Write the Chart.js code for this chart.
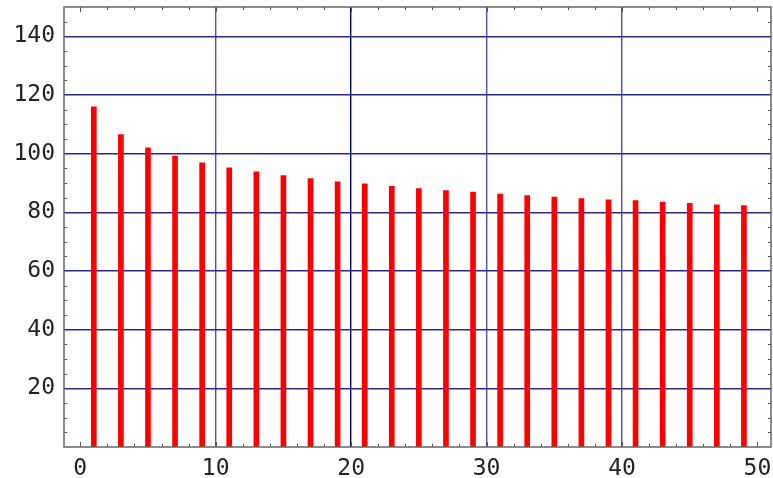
<!DOCTYPE html>
<html>
<head>
<meta charset="utf-8">
<script src="https://cdn.jsdelivr.net/npm/chart.js@4"></script>
<style>
  html, body { margin: 0; padding: 0; background: #fff; }
  #wrap { width: 773px; height: 478px; }
</style>
</head>
<body>
<div id="wrap"><canvas id="myChart" width="773" height="478"></canvas></div>
<script>
// data
var xValues = [1, 3, 5, 7, 9, 11, 13, 15, 17, 19, 21, 23, 25, 27, 29, 31, 33, 35, 37, 39, 41, 43, 45, 47, 49];
var yValues = [116.0, 106.5, 102.0, 99.2, 96.9, 95.2, 93.8, 92.5, 91.5, 90.4, 89.7, 88.9, 88.1, 87.4, 86.9,
               86.2, 85.7, 85.2, 84.7, 84.3, 84.0, 83.5, 83.1, 82.6, 82.3];
var xTicks = [0, 10, 20, 30, 40, 50];
var yTicks = [20, 40, 60, 80, 100, 120, 140];
var xMinor = [2, 4, 6, 8, 12, 14, 16, 18, 22, 24, 26, 28, 32, 34, 36, 38, 42, 44, 46, 48];
var yMinor = [5, 10, 15, 25, 30, 35, 45, 50, 55, 65, 70, 75, 85, 90, 95, 105, 110, 115, 125, 130, 135, 145];

var points = xValues.map(function(x, i){ return {x: x, y: yValues[i]}; });

function gridColX(v){ //grid at 20 is darker than the others
    if(v == 20) return 'rgb(0,0,100)';
    if(v == 0 || v == 50) return 'rgba(0,0,0,0)';
    return 'rgb(80,80,170)';
}

// frame and the small inward ticks on all four sides
var framePlugin = {
    id: 'frame',
    afterDraw: function(chart){
        var ctx = chart.ctx, a = chart.chartArea;
        var xs = chart.scales.x, ys = chart.scales.y;
        ctx.save();
        ctx.strokeStyle = '#555';
        ctx.lineWidth = 1;
        ctx.beginPath();
        xMinor.forEach(function(v){
            var p = Math.round(xs.getPixelForValue(v)) + 0.5;
            ctx.moveTo(p, a.bottom); ctx.lineTo(p, a.bottom - 3);
            ctx.moveTo(p, a.top); ctx.lineTo(p, a.top + 3);
        });
        xTicks.forEach(function(v){
            var p = Math.round(xs.getPixelForValue(v)) + 0.5;
            ctx.moveTo(p, a.bottom); ctx.lineTo(p, a.bottom - 5);
            ctx.moveTo(p, a.top); ctx.lineTo(p, a.top + 5);
        });
        yMinor.forEach(function(v){
            var p = Math.round(ys.getPixelForValue(v)) + 0.5;
            ctx.moveTo(a.left, p); ctx.lineTo(a.left + 3, p);
            ctx.moveTo(a.right, p); ctx.lineTo(a.right - 3, p);
        });
        ctx.stroke();
        ctx.strokeStyle = '#666';
        ctx.lineWidth = 1.5;
        ctx.strokeRect(a.left, a.top, a.right - a.left, a.bottom - a.top);
        ctx.restore();
    }
};

const CTX = document.getElementById('myChart').getContext('2d');
const CONFIG = {
    type: 'bar',
    data: {
        datasets: [{
            data: points,
            backgroundColor: '#ff0000',
            borderWidth: 0,
            barThickness: 5
        }]
    },
    options: {
        responsive: false,
        animation: false,
        events: [],
        layout: { padding: { top: 7, right: 2, left: 0, bottom: 0 } },
        plugins: { legend: { display: false }, tooltip: { enabled: false } },
        scales: {
            x: {
                type: 'linear',
                offset: false,
                min: -1.2,
                max: 51,
                afterBuildTicks: function(s){ s.ticks = xTicks.map(function(v){ return {value: v}; }); },
                afterFit: function(s){ s.height = 31; s.paddingLeft = 0; s.paddingRight = 0; },
                grid: {
                    offset: false,
                    drawTicks: false,
                    lineWidth: 1.4,
                    color: function(c){ return gridColX(c.tick ? c.tick.value : 0); }
                },
                border: { display: false },
                ticks: {
                    padding: 8,
                    maxRotation: 0,
                    autoSkip: false,
                    color: '#222',
                    font: { family: 'DejaVu Sans Mono', size: 23 }
                }
            },
            y: {
                min: 0,
                max: 150,
                afterBuildTicks: function(s){ s.ticks = yTicks.map(function(v){ return {value: v}; }); },
                afterFit: function(s){ s.width = 64; s.paddingTop = 0; s.paddingBottom = 0; },
                grid: {
                    drawTicks: false,
                    lineWidth: 1.4,
                    color: 'rgb(40,40,140)'
                },
                border: { display: false },
                ticks: {
                    padding: 9,
                    autoSkip: false,
                    color: '#222',
                    font: { family: 'DejaVu Sans Mono', size: 23 }
                }
            }
        }
    },
    plugins: [framePlugin]
};

var myChart = new Chart(CTX, CONFIG);
</script>
</body>
</html>
